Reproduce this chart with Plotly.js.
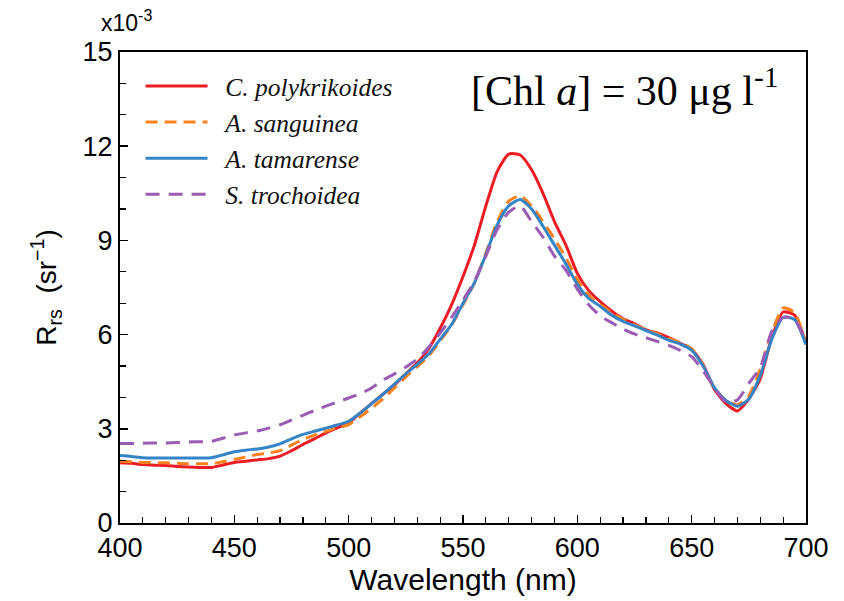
<!DOCTYPE html>
<html>
<head>
<meta charset="utf-8">
<script src="https://cdn.plot.ly/plotly-3.0.1.min.js"></script>
<style>html,body{margin:0;padding:0;background:#fff;}#chart{width:844px;height:601px;}</style>
</head>
<body>
<div id="chart"></div>
<script>
// Wavelength (nm)
const wavelength = [400,405,410,415,420,425,430,435,440,445,450,455,460,465,470,475,480,485,490,495,500,505,510,515,520,525,530,535,540,545,550,555,560,565,570,575,580,585,590,595,600,605,610,615,620,625,630,635,640,645,650,655,660,665,670,675,680,685,690,695,700];

// Rrs (x10^-3 sr^-1)
const cPolykrikoides = [1.92,1.90,1.86,1.84,1.83,1.80,1.78,1.77,1.77,1.85,1.93,1.97,2.01,2.05,2.13,2.30,2.50,2.68,2.87,3.03,3.19,3.50,3.80,4.10,4.40,4.75,5.10,5.55,6.20,6.95,7.85,8.85,10.1,11.2,11.75,11.72,11.25,10.5,9.6,8.85,7.95,7.4,7.05,6.75,6.5,6.35,6.15,6.05,5.9,5.72,5.53,5.05,4.25,3.8,3.57,3.95,4.6,5.9,6.72,6.62,5.7];
const aSanguinea = [1.97,1.95,1.93,1.92,1.92,1.90,1.89,1.89,1.89,1.95,2.02,2.10,2.18,2.23,2.30,2.48,2.66,2.80,2.92,3.03,3.13,3.38,3.65,3.95,4.30,4.65,4.98,5.32,5.80,6.30,6.95,7.65,8.6,9.6,10.25,10.42,10.1,9.6,9.05,8.45,7.75,7.25,6.95,6.7,6.48,6.32,6.16,6.03,5.88,5.75,5.55,5.02,4.3,3.9,3.77,4.05,4.9,6.05,6.85,6.7,5.72];
const aTamarense = [2.15,2.12,2.08,2.07,2.07,2.07,2.07,2.07,2.08,2.17,2.27,2.32,2.36,2.42,2.52,2.68,2.82,2.92,3.02,3.12,3.24,3.50,3.80,4.10,4.42,4.75,5.05,5.38,5.85,6.32,7.0,7.65,8.55,9.5,10.1,10.3,10.0,9.45,8.85,8.25,7.6,7.15,6.9,6.62,6.42,6.28,6.13,5.98,5.82,5.7,5.5,5.0,4.3,3.9,3.72,3.95,4.7,5.85,6.55,6.48,5.68];
const sTrochoidea = [2.53,2.53,2.54,2.55,2.55,2.56,2.58,2.59,2.60,2.70,2.80,2.87,2.93,3.02,3.13,3.28,3.43,3.58,3.72,3.85,3.98,4.12,4.30,4.55,4.75,4.97,5.22,5.60,6.05,6.55,7.10,7.70,8.5,9.35,9.9,10.1,9.6,9.1,8.5,8.05,7.45,6.95,6.6,6.38,6.18,6.02,5.9,5.78,5.66,5.5,5.3,4.85,4.3,3.85,3.92,4.45,4.95,6.1,6.55,6.5,5.73];

const seriesNames = ['C. polykrikoides','A. sanguinea','A. tamarense','S. trochoidea'];
const seriesValues = [cPolykrikoides, aSanguinea, aTamarense, sTrochoidea];
const seriesColors = ['#ec1c24','#f7821e','#3584c6','#9b5cb4'];
const seriesDash = ['solid','12px,7px','solid','14px,9px'];

const traces = seriesValues.map((v,i)=>({
  x: wavelength, y: v, type:'scatter', mode:'lines',
  name: '\u00a0\u00a0<i>' + seriesNames[i] + '</i>',
  line:{color: seriesColors[i], width: 3, dash: seriesDash[i], shape:'spline', smoothing:0.6}
}));

const sansFont = 'Liberation Sans, Arial, sans-serif';
const layout = {
  width: 844, height: 601,
  margin:{l:120, r:38, t:52, b:78},
  paper_bgcolor:'#fff', plot_bgcolor:'#fff',
  showlegend: true,
  legend:{x:0.03, y:0.977, xanchor:'left', yanchor:'top', bgcolor:'rgba(0,0,0,0)',
    font:{family:'Liberation Serif, serif', size:25.5, color:'#111'}, itemwidth:62},
  xaxis:{range:[400,700], dtick:50, tick0:400, ticks:'inside', ticklen:8, tickwidth:1.5, tickcolor:'#000',
    minor:{dtick:10, ticks:'inside', ticklen:6, tickwidth:1.2, tickcolor:'#000'},
    showline:true, linecolor:'#000', linewidth:2, mirror:true, showgrid:false, zeroline:false,
    tickfont:{family:sansFont, size:27, color:'#000'},
    title:{text:'Wavelength (nm)', font:{family:sansFont, size:30, color:'#000'}, standoff:6}},
  yaxis:{range:[0,15], dtick:3, tick0:0, ticks:'inside', ticklen:8, tickwidth:1.5, tickcolor:'#000',
    minor:{dtick:1, ticks:'inside', ticklen:6, tickwidth:1.2, tickcolor:'#000'},
    showline:true, linecolor:'#000', linewidth:2, mirror:true, showgrid:false, zeroline:false,
    tickfont:{family:sansFont, size:27, color:'#000'},
    title:{text:'R<sub>rs</sub>  (sr<sup>−1</sup>)', font:{family:sansFont, size:28, color:'#000'}, standoff:18}},
  annotations:[
    {xref:'paper', yref:'paper', x:0.963, y:0.924, xanchor:'right', yanchor:'middle', showarrow:false,
      text:'[Chl <i>a</i>] = 30 μg l<sup>-1</sup>', font:{family:'Liberation Serif, serif', size:42, color:'#000'}},
    {xref:'paper', yref:'paper', x:0.01, y:1.03, xanchor:'center', yanchor:'bottom', showarrow:false,
      text:'x10<sup>-3</sup>', font:{family:sansFont, size:23, color:'#000'}}
  ]
};

Plotly.newPlot('chart', traces, layout, {displayModeBar:false, staticPlot:true});
</script>
</body>
</html>
